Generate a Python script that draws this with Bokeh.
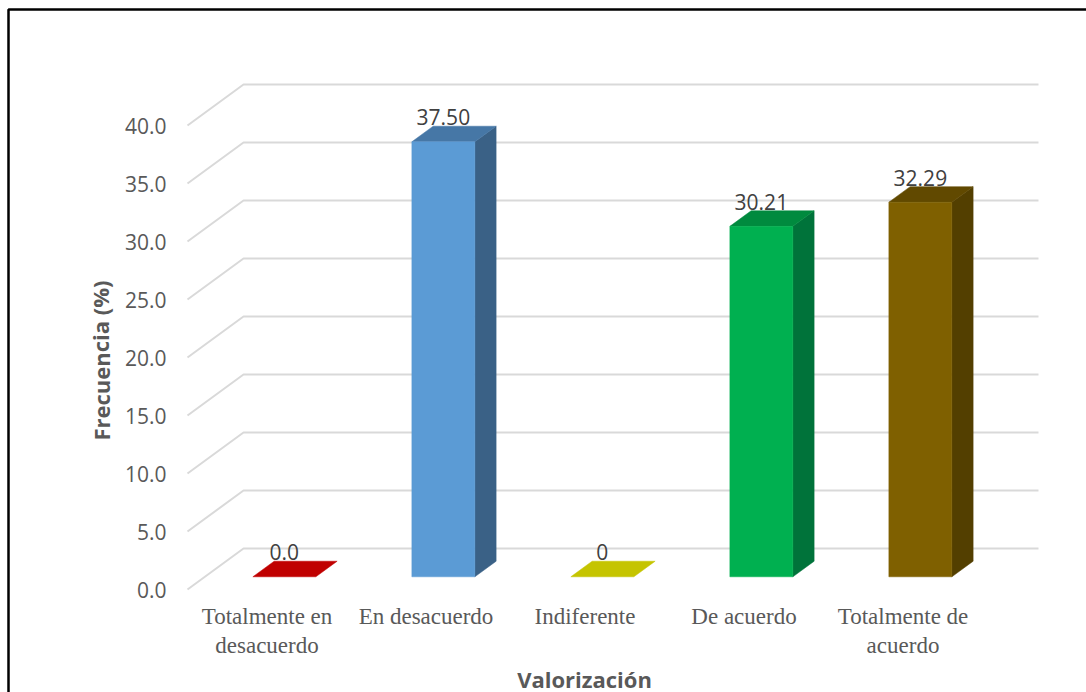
from bokeh.plotting import figure
from bokeh.models import Range1d, ColumnDataSource
from bokeh.core.properties import value
from bokeh.embed import file_html
from bokeh.resources import INLINE

# ---- data -------------------------------------------------------------
categories = ["Totalmente en\ndesacuerdo", "En desacuerdo", "Indiferente",
              "De acuerdo", "Totalmente de\nacuerdo"]
frecuencia = [0.0, 37.50, 0.0, 30.21, 32.29]
etiquetas = ["0.0", "37.50", "0", "30.21", "32.29"]
y_ticks = [0, 5, 10, 15, 20, 25, 30, 35, 40]
y_tick_labels = ["0.0", "5.0", "10.0", "15.0", "20.0", "25.0", "30.0", "35.0", "40.0"]

front_colors = ["#C00000", "#5B9BD5", "#C5C400", "#00B050", "#7F6000"]
top_colors = ["#C00000", "#4677A6", "#C5C400", "#008A3E", "#614900"]
side_colors = ["#9A0000", "#3A6186", "#9E9E00", "#00733A", "#533F00"]

# ---- layout (pixels) --------------------------------------------------
W, H = 1086, 692
X0_PX, SLOT_PX = 187, 159          # front plane: left edge, width of a category slot
Y0_PX, UNIT_PX = 589, 11.6         # front plane: zero line, pixels per percent
DEPTH_DX = 56 / SLOT_PX            # full depth of the 3-D box, in slot units
DEPTH_DY = 41 / UNIT_PX            # full depth of the 3-D box, in value units
D_FRONT, D_BACK = 0.31, 0.69       # depth span occupied by the bars
BAR_W = 63 / SLOT_PX


def px_x(px):
    return (px - X0_PX) / SLOT_PX


def px_y(py):
    return (Y0_PX - py) / UNIT_PX


def proj(x, v, d):
    return x + DEPTH_DX * d, v + DEPTH_DY * d


p = figure(width=W, height=H, output_backend="svg", toolbar_location=None,
           x_range=Range1d(px_x(0), px_x(W)), y_range=Range1d(px_y(H), px_y(0)),
           x_axis_location=None, y_axis_location=None, min_border=0,
           background_fill_color="white", border_fill_color="white")
p.grid.visible = False
p.outline_line_color = None

n = len(categories)

# ---- walls: gridlines running along the side wall and the back wall ----
gx, gy = [], []
for t in y_ticks:
    x_a, y_a = proj(0, t, 0)
    x_b, y_b = proj(0, t, 1)
    x_c, y_c = proj(n, t, 1)
    gx.append([x_a, x_b, x_c])
    gy.append([y_a, y_b, y_c])
p.multi_line(gx, gy, line_color="#D9D9D9", line_width=2)

# ---- 3-D columns ------------------------------------------------------
fx, fy, fc = [], [], []
tx, ty, tc = [], [], []
sx, sy, sc = [], [], []
for i, v in enumerate(frecuencia):
    xl = i + 0.5 - BAR_W / 2
    xr = i + 0.5 + BAR_W / 2
    pts = [proj(xl, v, D_FRONT), proj(xr, v, D_FRONT), proj(xr, v, D_BACK), proj(xl, v, D_BACK)]
    tx.append([q[0] for q in pts]); ty.append([q[1] for q in pts]); tc.append(top_colors[i])
    if v > 0:
        pts = [proj(xr, 0, D_FRONT), proj(xr, v, D_FRONT), proj(xr, v, D_BACK), proj(xr, 0, D_BACK)]
        sx.append([q[0] for q in pts]); sy.append([q[1] for q in pts]); sc.append(side_colors[i])
        pts = [proj(xl, 0, D_FRONT), proj(xr, 0, D_FRONT), proj(xr, v, D_FRONT), proj(xl, v, D_FRONT)]
        fx.append([q[0] for q in pts]); fy.append([q[1] for q in pts]); fc.append(front_colors[i])

p.patches(sx, sy, fill_color=sc, line_color=sc, line_width=0.5)
p.patches(tx, ty, fill_color=tc, line_color=tc, line_width=0.5)
p.patches(fx, fy, fill_color=fc, line_color=fc, line_width=0.5)

# ---- value labels -----------------------------------------------------
lab_src = ColumnDataSource(dict(
    x=[proj(i + 0.5, v, D_FRONT)[0] for i, v in enumerate(frecuencia)],
    y=[proj(i + 0.5, v, D_BACK)[1] for i, v in enumerate(frecuencia)],
    text=etiquetas))
p.text("x", "y", text="text", source=lab_src, text_align="center",
       text_baseline="alphabetic", y_offset=-9, text_font=value("Open Sans"),
       text_font_size="21px", text_color="#404040")

# ---- value axis tick labels (front plane) ------------------------------
p.text(x=[px_x(166)] * len(y_ticks), y=y_ticks, text=y_tick_labels,
       text_align="right", text_baseline="middle", text_font=value("Open Sans"),
       text_font_size="21px", text_color="#595959")

# ---- category labels --------------------------------------------------
p.text(x=[i + 0.5 for i in range(n)], y=[px_y(603)] * n, text=categories,
       text_align="center", text_baseline="top", text_font=value("Liberation Serif"),
       text_font_size="23px", text_color="#595959", text_line_height=1.17)

# ---- axis titles ------------------------------------------------------
p.text(x=[px_x(100)], y=[px_y(360)], text=["Frecuencia (%)"], angle=1.5708,
       text_align="center", text_baseline="middle", text_font=value("Open Sans"),
       text_font_style="bold", text_font_size="22px", text_color="#595959")
p.text(x=[px_x(584)], y=[px_y(678)], text=["Valorización"],
       text_align="center", text_baseline="middle", text_font=value("Open Sans"),
       text_font_style="bold", text_font_size="22px", text_color="#595959")

# ---- chart border -----------------------------------------------------
p.line(x=[px_x(8), px_x(8), px_x(W + 10)], y=[px_y(H + 10), px_y(9), px_y(9)],
       line_color="black", line_width=2.5)

open("out.html", "w").write(file_html(p, INLINE))
